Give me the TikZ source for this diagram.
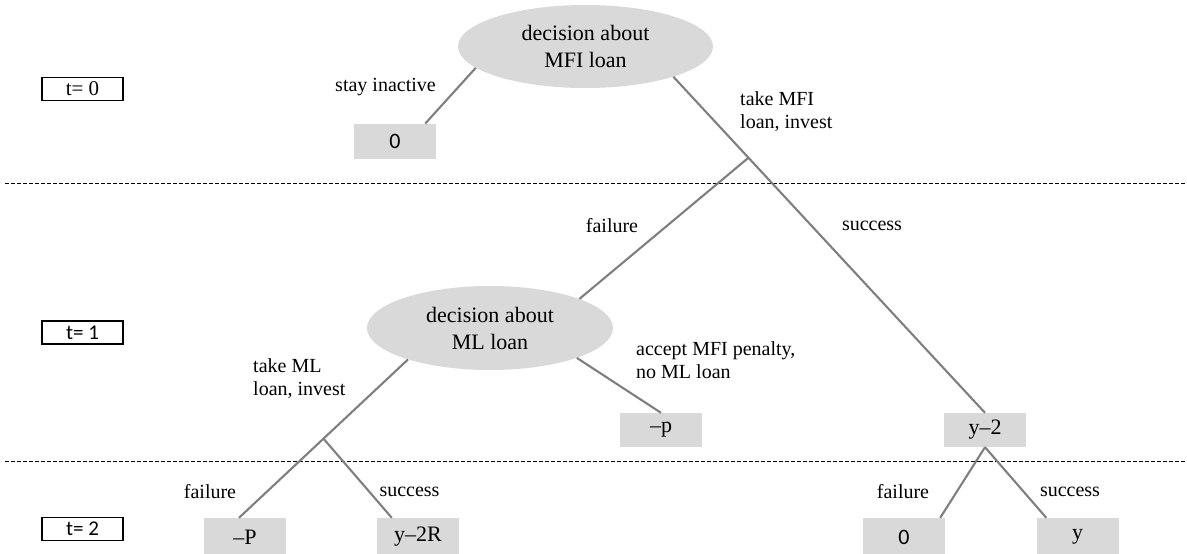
\documentclass[tikz,border=0pt]{standalone}
\usepackage{fontspec}
\setmainfont{Liberation Serif}
\newfontfamily\calibrifont{Carlito}
\usetikzlibrary{shapes.geometric,calc}
\definecolor{boxgray}{HTML}{D9D9D9}
\definecolor{linegray}{HTML}{7F7F7F}
\tikzset{
 decision/.style={ellipse, fill=boxgray, inner sep=0pt, align=center, font=\fontsize{22}{27}\selectfont},
 payoff/.style={rectangle, fill=boxgray, inner sep=0pt, minimum width=82pt, font=\fontsize{22}{26}\selectfont},
 period/.style={rectangle, draw=black, line width=1.5pt, fill=white, inner sep=0pt, minimum width=81pt, minimum height=23pt},
 branch/.style={draw=linegray, line width=2.1pt},
 lbl/.style={font=\fontsize{20}{23}\selectfont, inner sep=0pt},
 sep/.style={draw=black, line width=1pt, dash pattern=on 4pt off 2pt}
}
\begin{document}
\begin{tikzpicture}[x=1pt,y=-1pt]
\useasboundingbox[fill=white] (0,0) rectangle (1187,554);

% separators
\coordinate (s1a) at (5,183);
\coordinate (s1b) at (1187,183);
\coordinate (s2a) at (5,461);
\coordinate (s2b) at (1187,461);
\draw[sep] (s1a) -- (s1b);
\draw[sep] (s2a) -- (s2b);

% period boxes
\node[period, font=\fontsize{21}{24}\selectfont] (t0) at (82.5,89) {t= 0};
\node[period, font=\calibrifont\fontsize{21}{24}\selectfont] (t1) at (82.5,332.5) {t= 1};
\node[period, font=\calibrifont\fontsize{21}{24}\selectfont] (t2) at (82.5,529) {t= 2};

% decision nodes
\node[decision, minimum width=255pt, minimum height=83pt] (mfi) at (585.5,46.5) {decision about\\MFI loan};
\node[decision, minimum width=246pt, minimum height=84pt] (ml) at (490,328) {decision about\\ML loan};

% payoff boxes
\node[payoff, minimum height=35pt, font=\calibrifont\fontsize{22}{26}\selectfont] (zeroA) at (395,141.3) {0};
\node[payoff, minimum height=34pt] (mp) at (661,430) {--p};
\node[payoff, minimum height=34pt] (y2) at (985,430) {y--2};
\node[payoff, minimum height=38pt] (mP) at (245,537) {--P};
\node[payoff, minimum height=38pt] (y2R) at (418,537) {y--2R};
\node[payoff, minimum height=38pt, font=\calibrifont\fontsize{22}{26}\selectfont] (zeroB) at (904,537) {0};
\node[payoff, minimum height=38pt] (yb) at (1077.5,537) {y};

% branches
\draw[branch] (mfi.191) -- ($(zeroA.north east)+(-11,0)$);
\draw[branch] (mfi.341.6) -- (y2.north);
\coordinate (b1) at ($(mfi.341.6)!0.241!(y2.north)$);
\draw[branch] (b1) -- (ml.18.4);
\draw[branch] (ml.341.6) -- (mp.north);
\draw[branch] (ml.201) -- ($(mP.north)+(-6,0)$);
\coordinate (b2) at ($(ml.201)!0.5!($(mP.north)+(-6,0)$)$);
\draw[branch] (b2) -- ($(y2R.north west)+(15,0)$);
\draw[branch] (y2.south) -- ($(zeroB.north east)+(-5,0)$);
\draw[branch] (y2.south) -- ($(yb.north west)+(10,0)$);

% labels
\node[lbl] (l1) at (385.5,87) {stay inactive};
\node[lbl, align=left, anchor=west] (l2) at (740,111.5) {take MFI\\loan, invest};
\node[lbl] (l3) at (612,226) {failure};
\node[lbl] (l4) at (872,226) {success};
\node[lbl, align=left, anchor=west] (l5) at (253,378.5) {take ML\\loan, invest};
\node[lbl, align=left, anchor=west] (l6) at (636,360) {accept MFI penalty,\\no ML loan};
\node[lbl] (l7) at (210,492) {failure};
\node[lbl] (l8) at (409.5,492) {success};
\node[lbl] (l9) at (903,492) {failure};
\node[lbl] (l10) at (1070,492) {success};
\end{tikzpicture}
\end{document}
